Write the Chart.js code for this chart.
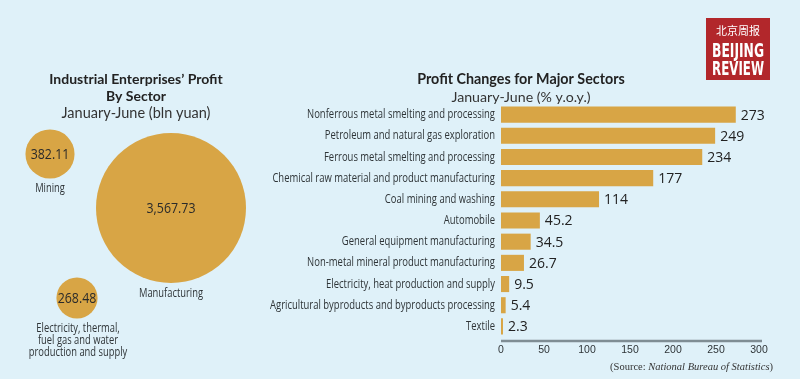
<!DOCTYPE html>
<html><head><meta charset="utf-8">
<script src="https://cdn.jsdelivr.net/npm/chart.js@4/dist/chart.umd.min.js"></script>
<style>
html,body{margin:0;padding:0;background:#dff1f9;width:800px;height:379px;overflow:hidden}
#bub{position:absolute;left:0;top:0}
#bar{position:absolute;left:260px;top:0}
</style></head><body>
<canvas id="bub" width="270" height="379"></canvas>
<canvas id="bar" width="540" height="379"></canvas>
<script>
// ---- data ----
const sectorNames = [["Mining"], ["Manufacturing"], ["Electricity, thermal,", "fuel gas and water", "production and supply"]];
const sectorProfits = [382.11, 3567.73, 268.48];
const sectorValueLabels = ["382.11", "3,567.73", "268.48"];

const barCategories = [
  "Nonferrous metal smelting and processing",
  "Petroleum and natural gas exploration",
  "Ferrous metal smelting and processing",
  "Chemical raw material and product manufacturing",
  "Coal mining and washing",
  "Automobile",
  "General equipment manufacturing",
  "Non-metal mineral product manufacturing",
  "Electricity, heat production and supply",
  "Agricultural byproducts and byproducts processing",
  "Textile"
];
const barValues = [273, 249, 234, 177, 114, 45.2, 34.5, 26.7, 9.5, 5.4, 2.3];
const barValueLabels = ["273", "249", "234", "177", "114", "45.2", "34.5", "26.7", "9.5", "5.4", "2.3"];
const xTickValues = [0, 50, 100, 150, 200, 250, 300];

// ---- layout / style (not data) ----
const bubbleCenters = [[50, 154], [171, 208], [77, 298]];
const GOLD = '#d8a545';
const TEXT = '#2f3538';
const SANS = '"Open Sans", sans-serif';

// draw text horizontally condensed by a factor (keeps it real text)
function condensedText(ctx, text, x, y, factor) {
  const w = ctx.measureText(text).width;
  ctx.fillText(text, x, y, w * factor);
}
function factorFor(ctx, font, sample, targetWidth) {
  ctx.save(); ctx.font = font;
  const w = ctx.measureText(sample).width;
  ctx.restore();
  return Math.min(1, targetWidth / w);
}

// ---- bubble chart ----
const maxProfit = Math.max(...sectorProfits);
const bubbleText = {
  id: 'bubbleText',
  afterDatasetsDraw(chart) {
    const ctx = chart.ctx;
    ctx.save();
    ctx.textAlign = 'center';
    ctx.textBaseline = 'middle';
    ctx.fillStyle = '#222';
    ctx.font = 'bold 14px Lato, sans-serif';
    ctx.fillText('Industrial Enterprises\u2019 Profit', 136, 79);
    ctx.fillText('By Sector', 136, 96);
    ctx.fillStyle = '#333';
    ctx.font = '14.5px Lato, sans-serif';
    ctx.fillText('January-June (bln yuan)', 136, 113);
    const valFont = '14px ' + SANS;
    const nameFont = '12.5px ' + SANS;
    const vf = factorFor(ctx, valFont, '3,567.73', 49);
    const nf = factorFor(ctx, nameFont, 'Manufacturing', 64);
    const meta = chart.getDatasetMeta(0);
    meta.data.forEach((el, i) => {
      const r = el.options.radius;
      ctx.fillStyle = '#2a2a2a';
      ctx.font = valFont;
      condensedText(ctx, sectorValueLabels[i], el.x, el.y + 1, vf);
      ctx.fillStyle = TEXT;
      ctx.font = nameFont;
      sectorNames[i].forEach((line, j) => {
        condensedText(ctx, line, el.x + (i === 2 ? 1 : 0), el.y + r + 10 + j * 12, nf);
      });
    });
    ctx.restore();
  }
};

new Chart(document.getElementById('bub'), {
  type: 'bubble',
  data: {
    datasets: [{
      data: sectorProfits.map((v, i) => ({
        x: bubbleCenters[i][0],
        y: bubbleCenters[i][1],
        r: 75 * Math.sqrt(v / maxProfit)
      })),
      backgroundColor: GOLD,
      borderWidth: 0,
      hoverRadius: 0,
      clip: false
    }]
  },
  options: {
    responsive: false,
    animation: false,
    layout: { padding: 0, autoPadding: false },
    events: [],
    scales: {
      x: { display: false, min: 0, max: 270 },
      y: { display: false, min: 0, max: 379, reverse: true }
    },
    plugins: { legend: { display: false }, tooltip: { enabled: false } }
  },
  plugins: [bubbleText]
});

// ---- bar chart ----
const barDecor = {
  id: 'barDecor',
  afterDatasetsDraw(chart) {
    const ctx = chart.ctx;
    const ca = chart.chartArea;
    ctx.save();
    // axis line
    ctx.strokeStyle = '#7f8d94';
    ctx.lineWidth = 2.5;
    ctx.beginPath();
    ctx.moveTo(ca.left, ca.bottom + 4);
    ctx.lineTo(ca.right + 3, ca.bottom + 4);
    ctx.stroke();
    // category labels, positioned by the library's y scale
    const yScale = chart.scales.y;
    const catFont = '12.5px ' + SANS;
    const cf = factorFor(ctx, catFont, barCategories[0], 188);
    ctx.font = catFont;
    ctx.fillStyle = TEXT;
    ctx.textAlign = 'right';
    ctx.textBaseline = 'middle';
    yScale.ticks.forEach((t, i) => {
      const label = yScale.getLabelForValue(t.value);
      condensedText(ctx, label, ca.left - 6, yScale.getPixelForTick(i), cf);
    });
    // value labels
    ctx.fillStyle = '#222';
    ctx.font = '14px ' + SANS;
    ctx.textAlign = 'left';
    chart.getDatasetMeta(0).data.forEach((el, i) => {
      ctx.fillText(barValueLabels[i], el.x + 5, el.y + 1);
    });
    // titles
    ctx.textAlign = 'center';
    ctx.fillStyle = '#222';
    ctx.font = 'bold 14.3px Lato, sans-serif';
    ctx.fillText('Profit Changes for Major Sectors', 261, 79);
    ctx.fillStyle = '#333';
    ctx.font = '14.2px Lato, sans-serif';
    ctx.fillText('January-June (% y.o.y.)', 261, 97);
    // source
    ctx.textAlign = 'left';
    ctx.fillStyle = '#333';
    const parts = [
      ['(Source: ', '10.5px "Liberation Serif", serif'],
      ['National Bureau of Statistics', 'italic 10.5px "Liberation Serif", serif'],
      [')', '10.5px "Liberation Serif", serif']
    ];
    let total = 0;
    parts.forEach(p => { ctx.font = p[1]; total += ctx.measureText(p[0]).width; });
    let x = 513 - total;
    parts.forEach(p => { ctx.font = p[1]; ctx.fillText(p[0], x, 367); x += ctx.measureText(p[0]).width; });
    // logo
    ctx.fillStyle = '#b2272b';
    ctx.fillRect(446, 18, 64, 62);
    ctx.fillStyle = '#fff';
    ctx.textAlign = 'center';
    ctx.font = '11px "Noto Sans CJK SC", sans-serif';
    ctx.fillText('北京周报', 478, 31, 48);
    ctx.font = 'bold 19px "DejaVu Sans Condensed", sans-serif';
    ctx.fillText('BEIJING', 478, 52, 52);
    ctx.fillText('REVIEW', 478, 70, 52);
    ctx.restore();
  }
};

new Chart(document.getElementById('bar'), {
  type: 'bar',
  data: {
    labels: barCategories,
    datasets: [{
      data: barValues,
      backgroundColor: GOLD,
      borderWidth: 0,
      barPercentage: 0.76,
      categoryPercentage: 1
    }]
  },
  options: {
    indexAxis: 'y',
    responsive: false,
    animation: false,
    events: [],
    layout: { padding: { left: 0, right: 41, top: 104, bottom: 0 } },
    scales: {
      x: {
        min: 0, max: 300,
        afterBuildTicks: s => { s.ticks = xTickValues.map(v => ({ value: v })); },
        afterFit: s => { s.height = 42; },
        grid: { display: false, drawTicks: false },
        border: { display: false },
        ticks: { padding: 7, color: TEXT, font: { family: '"Liberation Sans", sans-serif', size: 10.5 } }
      },
      y: {
        afterFit: s => { s.width = 241; },
        grid: { display: false, drawTicks: false },
        border: { display: false },
        ticks: { display: false }
      }
    },
    plugins: { legend: { display: false }, tooltip: { enabled: false } }
  },
  plugins: [barDecor]
});
</script>
</body></html>
